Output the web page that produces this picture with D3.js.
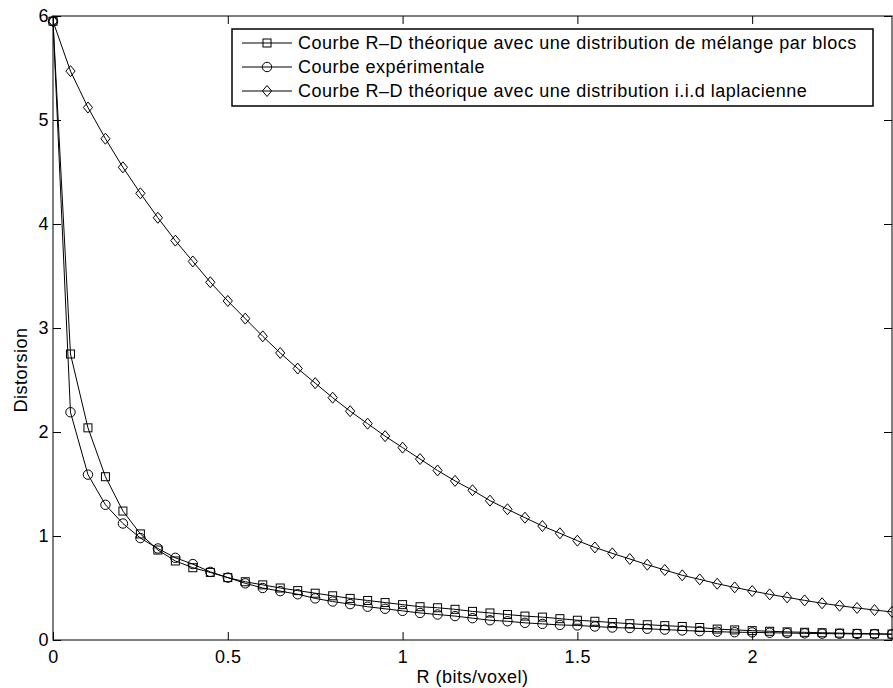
<!DOCTYPE html>
<html><head><meta charset="utf-8">
<script src="https://cdn.jsdelivr.net/npm/d3@7"></script>
<style>html,body{margin:0;padding:0;background:#fff;overflow:hidden}</style>
</head><body>
<svg id="chart" width="893" height="688"></svg>
<script>
// ---- data ----
const rates = [0,0.05,0.1,0.15,0.2,0.25,0.3,0.35,0.4,0.45,0.5,0.55,0.6,0.65,0.7,0.75,0.8,0.85,0.9,0.95,
  1,1.05,1.1,1.15,1.2,1.25,1.3,1.35,1.4,1.45,1.5,1.55,1.6,1.65,1.7,1.75,1.8,1.85,1.9,1.95,
  2,2.05,2.1,2.15,2.2,2.25,2.3,2.35,2.4];
const mixtureDistortion = [5.95,2.75,2.04,1.57,1.24,1.02,0.865,0.76,0.695,0.65,0.60,0.56,0.53,0.50,0.475,0.45,0.425,0.40,0.38,0.36,
  0.34,0.32,0.31,0.295,0.275,0.26,0.245,0.23,0.22,0.205,0.19,0.18,0.168,0.157,0.147,0.138,0.13,0.12,0.105,0.097,
  0.09,0.084,0.078,0.074,0.07,0.066,0.063,0.06,0.057];
const experimentalDistortion = [5.95,2.19,1.59,1.30,1.12,0.98,0.88,0.79,0.73,0.655,0.60,0.545,0.50,0.47,0.44,0.40,0.37,0.345,0.32,0.30,
  0.28,0.26,0.245,0.23,0.21,0.19,0.18,0.165,0.155,0.145,0.14,0.13,0.12,0.115,0.108,0.10,0.092,0.085,0.08,0.075,
  0.073,0.07,0.067,0.064,0.061,0.06,0.058,0.057,0.055];
const laplacianDistortion = [5.95,5.47,5.12,4.82,4.545,4.295,4.06,3.84,3.64,3.44,3.26,3.09,2.92,2.76,2.61,2.47,2.33,2.20,2.08,1.96,
  1.85,1.74,1.63,1.53,1.44,1.34,1.257,1.176,1.096,1.026,0.955,0.89,0.833,0.779,0.724,0.673,0.622,0.583,0.541,0.506,
  0.471,0.439,0.41,0.381,0.353,0.33,0.308,0.288,0.27];
const seriesNames = [
  "Courbe R\u2013D théorique avec une distribution de mélange par blocs",
  "Courbe expérimentale",
  "Courbe R\u2013D théorique avec une distribution i.i.d laplacienne"
];
const seriesMarkers = ["square","circle","diamond"];
const xTicks = [0,0.5,1,1.5,2];
const yTicks = [0,1,2,3,4,5,6];
const xLabel = "R (bits/voxel)";
const yLabel = "Distorsion";

// ---- layout ----
const FONT = "'Liberation Sans', Arial, Helvetica, sans-serif";
const svg = d3.select("#chart");
svg.append("rect").attr("width",893).attr("height",688).attr("fill","#fff");
const x = d3.scaleLinear().domain([0,2.4]).range([53,892]);
const y = d3.scaleLinear().domain([0,6]).range([640,16]);

const series = [mixtureDistortion, experimentalDistortion, laplacianDistortion].map((vals,i)=>({
  name: seriesNames[i], marker: seriesMarkers[i],
  points: rates.map((r,j)=>({x:r, y:vals[j]}))
}));

svg.append("defs").append("clipPath").attr("id","plotclip")
  .append("rect").attr("x",53).attr("y",16).attr("width",839).attr("height",624);

function styleAxis(g){
  g.select(".domain").remove();
  g.selectAll(".tick line").attr("stroke","#000").attr("stroke-width",1);
  g.selectAll(".tick text").attr("fill","#000").style("font-family",FONT)
    .style("font-size","18px").style("letter-spacing","0.5px");
}
svg.append("g").attr("transform","translate(0,640)")
  .call(d3.axisBottom(x).tickValues(xTicks).tickSize(-8).tickPadding(10).tickFormat(d3.format("")))
  .call(styleAxis);
svg.append("g").attr("transform","translate(0,16)")
  .call(d3.axisTop(x).tickValues(xTicks).tickSize(-8).tickFormat(""))
  .call(styleAxis);
svg.append("g").attr("transform","translate(53,0)")
  .call(d3.axisLeft(y).tickValues(yTicks).tickSize(-8).tickPadding(4).tickFormat(d3.format("")))
  .call(styleAxis);
svg.append("g").attr("transform","translate(892,0)")
  .call(d3.axisRight(y).tickValues(yTicks).tickSize(-8).tickFormat(""))
  .call(styleAxis);

svg.append("rect").attr("x",53).attr("y",16).attr("width",839).attr("height",624)
  .attr("fill","none").attr("stroke","#000").attr("stroke-width",1);

function drawMarker(sel, type){
  if(type==="square"){
    sel.append("rect").attr("x",-4).attr("y",-4).attr("width",8).attr("height",8);
  } else if(type==="circle"){
    sel.append("circle").attr("r",4.7);
  } else {
    sel.append("path").attr("d","M0,-5.5L4.6,0L0,5.5L-4.6,0Z");
  }
  sel.selectAll("rect,circle,path").attr("fill","none").attr("stroke","#000").attr("stroke-width",1);
}

const line = d3.line().x(d=>x(d.x)).y(d=>y(d.y));
series.forEach(s=>{
  svg.append("path").datum(s.points).attr("d",line).attr("fill","none")
    .attr("stroke","#000").attr("stroke-width",1).attr("clip-path","url(#plotclip)");
  svg.append("g").selectAll("g").data(s.points).join("g")
    .attr("transform",d=>`translate(${x(d.x)},${y(d.y)})`)
    .each(function(){ drawMarker(d3.select(this), s.marker); });
});

// legend
const lg = svg.append("g");
lg.append("rect").attr("x",232).attr("y",29).attr("width",641).attr("height",77)
  .attr("fill","#fff").attr("stroke","#000").attr("stroke-width",1.5);
series.forEach((s,i)=>{
  const cy = 43 + i*24;
  lg.append("line").attr("x1",242).attr("x2",292).attr("y1",cy).attr("y2",cy)
    .attr("stroke","#000").attr("stroke-width",1);
  const m = lg.append("g").attr("transform",`translate(267,${cy})`);
  drawMarker(m, s.marker);
  lg.append("text").attr("x",298).attr("y",cy).attr("dy","0.36em").text(s.name)
    .style("font-family",FONT).style("font-size","18px").style("letter-spacing","0.5px");
});

// axis labels
svg.append("text").attr("x",472.5).attr("y",683).attr("text-anchor","middle").text(xLabel)
  .style("font-family",FONT).style("font-size","18px").style("letter-spacing","0.5px");
svg.append("text").attr("transform","translate(27,370) rotate(-90)").attr("text-anchor","middle").text(yLabel)
  .style("font-family",FONT).style("font-size","18px").style("letter-spacing","0.5px");
</script>
</body></html>
